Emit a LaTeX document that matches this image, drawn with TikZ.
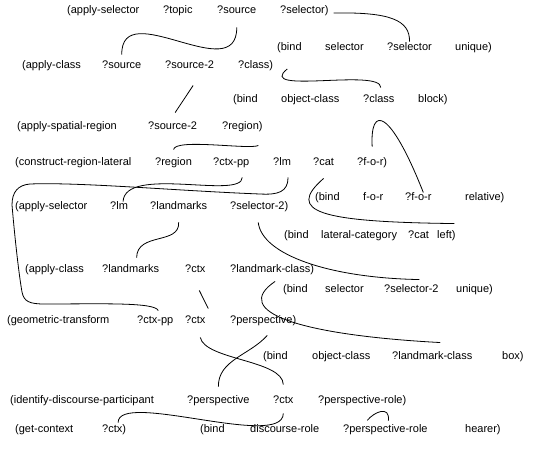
\documentclass[tikz,border=0pt]{standalone}
\usepackage{fontspec}
\setmainfont{Liberation Sans}
\begin{document}
\begin{tikzpicture}[x=1pt,y=-1pt,
  w/.style={anchor=west,inner sep=0pt,text height=8pt,text depth=2.5pt,font=\fontsize{11}{13}\selectfont},
  link/.style={line width=0.8pt,black}]
\useasboundingbox (0,0) rectangle (544,449);
% row 1
\node[w] (r1a) at (67,11) {(apply-selector};
\node[w] (r1b) at (163,11) {?topic};
\node[w] (r1c) at (217,11) {?source};
\node[w] (r1d) at (280,11) {?selector)};
% row 2
\node[w] (r2a) at (277,48) {(bind};
\node[w] (r2b) at (325,48) {selector};
\node[w] (r2c) at (387,48) {?selector};
\node[w] (r2d) at (455,48) {unique)};
% row 3
\node[w] (r3a) at (22,66) {(apply-class};
\node[w] (r3b) at (102,66) {?source};
\node[w] (r3c) at (165,66) {?source-2};
\node[w] (r3d) at (238,66) {?class)};
% row 4
\node[w] (r4a) at (233,100) {(bind};
\node[w] (r4b) at (281,100) {object-class};
\node[w] (r4c) at (363,100) {?class};
\node[w] (r4d) at (418,100) {block)};
% row 5
\node[w] (r5a) at (17,127) {(apply-spatial-region};
\node[w] (r5b) at (148,127) {?source-2};
\node[w] (r5c) at (222,127) {?region)};
% row 6
\node[w] (r6a) at (15,163) {(construct-region-lateral};
\node[w] (r6b) at (155,163) {?region};
\node[w] (r6c) at (213,163) {?ctx-pp};
\node[w] (r6d) at (273,163) {?lm};
\node[w] (r6e) at (313,163) {?cat};
\node[w] (r6f) at (357,163) {?f-o-r)};
% row 7
\node[w] (r7a) at (315,198) {(bind};
\node[w] (r7b) at (363,198) {f-o-r};
\node[w] (r7c) at (405,198) {?f-o-r};
\node[w] (r7d) at (465,198) {relative)};
% row 8
\node[w] (r8a) at (15,207) {(apply-selector};
\node[w] (r8b) at (110,207) {?lm};
\node[w] (r8c) at (150,207) {?landmarks};
\node[w] (r8d) at (230,207) {?selector-2)};
% row 9
\node[w] (r9a) at (284,236) {(bind};
\node[w] (r9b) at (321,236) {lateral-category};
\node[w] (r9c) at (408,236) {?cat};
\node[w] (r9d) at (437,236) {left)};
% row 10
\node[w] (r10a) at (25,270) {(apply-class};
\node[w] (r10b) at (102,270) {?landmarks};
\node[w] (r10c) at (185,270) {?ctx};
\node[w] (r10d) at (230,270) {?landmark-class)};
% row 11
\node[w] (r11a) at (283,290) {(bind};
\node[w] (r11b) at (325,290) {selector};
\node[w] (r11c) at (384,290) {?selector-2};
\node[w] (r11d) at (456,290) {unique)};
% row 12
\node[w] (r12a) at (7,321) {(geometric-transform};
\node[w] (r12b) at (137,321) {?ctx-pp};
\node[w] (r12c) at (185,321) {?ctx};
\node[w] (r12d) at (230,321) {?perspective)};
% row 13
\node[w] (r13a) at (263,357) {(bind};
\node[w] (r13b) at (312,357) {object-class};
\node[w] (r13c) at (392,357) {?landmark-class};
\node[w] (r13d) at (502,357) {box)};
% row 14
\node[w] (r14a) at (10,401) {(identify-discourse-participant};
\node[w] (r14b) at (187,401) {?perspective};
\node[w] (r14c) at (273,401) {?ctx};
\node[w] (r14d) at (318,401) {?perspective-role)};
% row 15
\node[w] (r15a) at (15,430) {(get-context};
\node[w] (r15b) at (102,430) {?ctx)};
\node[w] (r15c) at (200,430) {(bind};
\node[w] (r15d) at (250,430) {discourse-role};
\node[w] (r15e) at (343,430) {?perspective-role};
\node[w] (r15f) at (465,430) {hearer)};
% connectors
\draw[link] ([shift={(5,2)}]r1d.east) .. controls (390,12) and (410,20) .. ([shift={(0,-1)}]r2c.north);
\draw[link] ([shift={(0,11)}]r1c.south) .. controls (237,88) and (121,-5) .. ([shift={(0,-6)}]r3b.north);
\draw[link] ([shift={(14,3)}]r3d.east) .. controls (255,95) and (381,68) .. ([shift={(2,-7)}]r4c.north);
\draw[link] ([shift={(3.5,14)}]r3c.south) -- ([shift={(2.5,-9)}]r5b.north);
\draw[link] ([shift={(16,13)}]r5c.south) .. controls (250,150) and (175,138) .. ([shift={(0,-8)}]r6b.north);
\draw[link] ([shift={(0,-11)}]r6f.north) .. controls (370,105) and (390,108) .. ([shift={(5,0)}]r7c.north);
\draw[link] ([shift={(0,10)}]r6e.south) .. controls (285,212) and (320,222) .. ([shift={(8,-7)}]r9d.north);
\draw[link] ([shift={(11,9)}]r6c.south) .. controls (242,200) and (125,165) .. ([shift={(4,0)}]r8b.north);
\draw[link] ([shift={(6,9)}]r6d.south) .. controls (288,192) and (278,195) .. (260,194)
   .. controls (180,191) and (80,182) .. (30,184)
   .. controls (18,185) and (12,192) .. (12,205)
   .. controls (15,240) and (19,275) .. (22,292)
   .. controls (24,302) and (30,304) .. (45,304)
   .. controls (100,304) and (155,302) .. ([shift={(3,-5)}]r12b.north);
\draw[link] ([shift={(0,10)}]r8c.south) .. controls (180,245) and (137,232) .. ([shift={(6,-7)}]r10b.north);
\draw[link] ([shift={(-1,10)}]r8d.south) .. controls (262,255) and (330,278) .. ([shift={(8,-5)}]r11c.north);
\draw[link] ([shift={(4,15)}]r10c.south) -- ([shift={(13,-7)}]r12c.north);
\draw[link] ([shift={(3,6)}]r10d.south) .. controls (230,312) and (300,335) .. ([shift={(8,-9)}]r13c.north);
\draw[link] ([shift={(5,11)}]r12c.south) .. controls (205,360) and (283,360) .. ([shift={(0,-11)}]r14c.north);
\draw[link] ([shift={(4,9)}]r12d.south) .. controls (250,355) and (218,360) .. ([shift={(0,-9)}]r14b.north);
\draw[link] ([shift={(0,7)}]r14c.south) .. controls (283,450) and (118,390) .. ([shift={(4,-2)}]r15b.north);
\draw[link] ([shift={(5,14)}]r14d.south) .. controls (374,412) and (390,405) .. ([shift={(3,-4)}]r15e.north);
\end{tikzpicture}
\end{document}
